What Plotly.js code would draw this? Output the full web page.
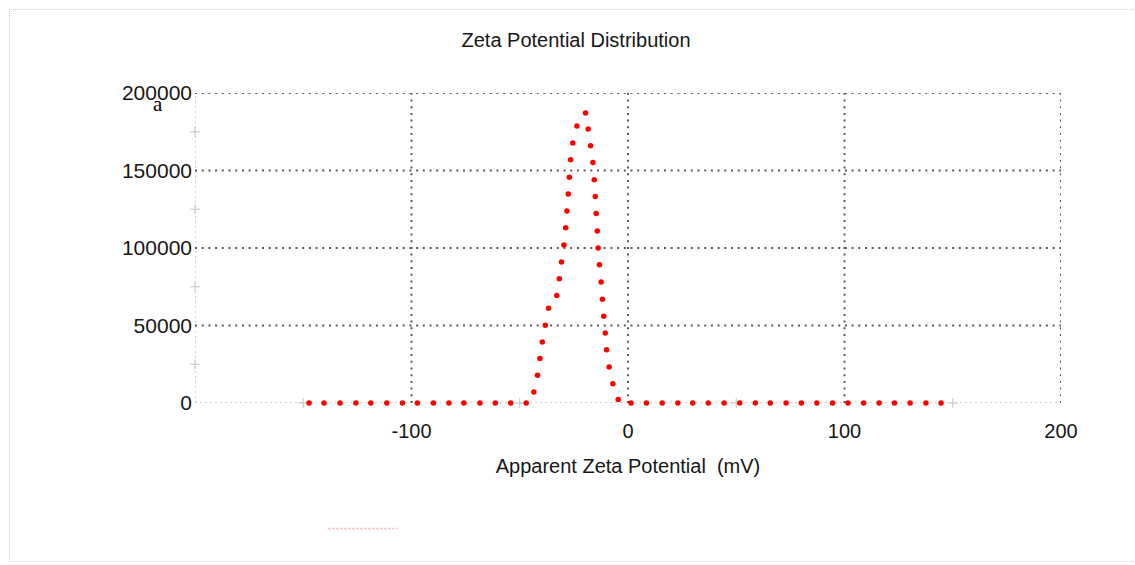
<!DOCTYPE html>
<html>
<head>
<meta charset="utf-8">
<script src="https://cdn.plot.ly/plotly-3.0.1.min.js"></script>
<style>
  html, body { margin: 0; padding: 0; background: #ffffff; }
  #wrap { position: relative; width: 1135px; height: 565px; overflow: hidden; }
  #chart { position: absolute; left: 0; top: 0; width: 1135px; height: 565px; }
  #frame { position: absolute; left: 9px; top: 9px; width: 1130px; height: 551px;
           border-top: 1px dotted #cfcfcf; border-left: 1px dotted #cfcfcf; border-bottom: 1px dotted #cfcfcf;
           pointer-events: none; }
</style>
</head>
<body>
<div id="wrap">
  <div id="chart"></div>
  <div id="frame"></div>
</div>
<script>
// ---- data ----
var zetaMv = [
  -147.3, -140.4, -133.0, -125.7, -118.8, -111.4, -104.2, -97.3, -89.9, -82.7, -75.8, -68.4, -61.3, -54.2, -47.0,
  -43.5, -41.8, -40.7, -39.6, -38.2, -36.7, -32.9, -31.7, -30.7, -29.6, -28.8, -28.2, -27.6, -27.1, -26.5, -25.5, -23.6, -19.6,
  -18.4, -17.3, -16.2, -15.6, -15.1, -14.7, -14.2, -13.8, -13.2, -12.4, -11.8, -11.2, -10.5, -9.9, -8.7, -7.0, -4.5,
  1.4, 8.5, 15.8, 23.0, 29.9, 37.1, 44.4, 51.6, 58.8, 65.7, 73.0, 80.1, 87.2, 94.5, 101.6, 108.8, 116.0, 123.1, 130.3, 137.6, 144.6
];
var counts = [
  0, 0, 0, 0, 0, 0, 0, 0, 0, 0, 0, 0, 0, 0, 0,
  7100, 17900, 28700, 39400, 50200, 61200, 69400, 80200, 91000, 101900, 113100, 123900, 134900, 145700, 156900, 167700, 178700, 187100,
  176700, 165900, 155100, 144000, 133200, 122200, 111000, 100000, 89200, 78000, 67000, 56000, 45100, 34300, 23300, 12500, 2200,
  0, 0, 0, 0, 0, 0, 0, 0, 0, 0, 0, 0, 0, 0, 0, 0, 0, 0, 0, 0, 0
];
var xTickVals = [-100, 0, 100, 200];
var xTickText = ['-100', '0', '100', '200'];
var yTickVals = [0, 50000, 100000, 150000, 200000];
var yTickText = ['0', '50000', '100000', '150000', '200000'];
var xRange = [-200, 200];
var yRange = [0, 200000];
var xMinorMarks = [-150, -50, 50, 150];
var yMinorMarks = [25000, 75000, 125000, 175000];
var chartTitle = 'Zeta Potential Distribution';
var xTitle = 'Apparent Zeta Potential&nbsp;&nbsp;(mV)';
var panelLabel = 'a';

// ---- build ----
var FONT = 'Liberation Sans, Arial, sans-serif';
var TXT = '#161616';
var shapes = [];
// light axis lines (left and bottom)
shapes.push({type: 'line', xref: 'x', yref: 'y', x0: xRange[0], x1: xRange[1], y0: yRange[0], y1: yRange[0],
  line: {color: '#c4c4c4', width: 1.5, dash: '2px,3px'}, layer: 'below'});
shapes.push({type: 'line', xref: 'x', yref: 'y', x0: xRange[0], x1: xRange[0], y0: yRange[0], y1: yRange[1],
  line: {color: '#c4c4c4', width: 1.5, dash: '2px,3px'}, layer: 'below'});
// dark dotted grid
yTickVals.forEach(function (v) {
  if (v === yRange[0]) return;
  shapes.push({type: 'line', xref: 'x', yref: 'y', x0: xRange[0], x1: xRange[1], y0: v, y1: v,
    line: {color: '#5a5a5a', width: 2, dash: '2px,4.7px'}, layer: 'below'});
});
xTickVals.forEach(function (v) {
  shapes.push({type: 'line', xref: 'x', yref: 'y', x0: v, x1: v, y0: yRange[0], y1: yRange[1],
    line: {color: '#5a5a5a', width: 2, dash: '2px,4.7px'}, layer: 'below'});
});
// faint legend sample line near bottom
shapes.push({type: 'line', xref: 'paper', yref: 'paper', x0: 0.154, x1: 0.234, y0: -0.405, y1: -0.405,
  line: {color: '#f7b5b5', width: 1.5, dash: '2px,2px'}});

var traces = [
  {x: xMinorMarks, y: xMinorMarks.map(function () { return yRange[0]; }), mode: 'markers', type: 'scatter',
   marker: {symbol: 'cross-thin-open', size: 7, color: '#c4c4c4', line: {color: '#c4c4c4', width: 1}}, cliponaxis: false, hoverinfo: 'skip'},
  {x: yMinorMarks.map(function () { return xRange[0]; }), y: yMinorMarks, mode: 'markers', type: 'scatter',
   marker: {symbol: 'cross-thin-open', size: 7, color: '#c4c4c4', line: {color: '#c4c4c4', width: 1}}, cliponaxis: false, hoverinfo: 'skip'},
  {x: zetaMv, y: counts, mode: 'markers', type: 'scatter',
   marker: {symbol: 'circle', size: 5.5, color: '#ff0000', line: {width: 0}}, cliponaxis: false}
];

var layout = {
  width: 1135, height: 565,
  paper_bgcolor: '#ffffff', plot_bgcolor: 'rgba(0,0,0,0)',
  showlegend: false,
  margin: {l: 194.5, r: 74, t: 93.3, b: 162.3, pad: 0},
  font: {family: FONT, size: 20, color: TXT},
  title: {text: chartTitle, font: {family: FONT, size: 20, color: TXT},
          x: 0.5075, xanchor: 'center', xref: 'container', y: 1 - 40 / 565, yanchor: 'middle', yref: 'container'},
  xaxis: {range: xRange, tickvals: xTickVals, ticktext: xTickText, showgrid: false, zeroline: false, showline: false,
          ticks: '', ticklabelstandoff: 14, tickfont: {family: FONT, size: 20, color: TXT},
          title: {text: xTitle, font: {family: FONT, size: 20, color: TXT}, standoff: 17}, fixedrange: true},
  yaxis: {range: yRange, tickvals: yTickVals, ticktext: yTickText, showgrid: false, zeroline: false, showline: false,
          ticks: '', ticklabelstandoff: 2, tickfont: {family: FONT, size: 21, color: TXT}, fixedrange: true},
  shapes: shapes,
  annotations: [{text: panelLabel, xref: 'paper', yref: 'paper', x: (157 - 194.5) / 866.5, y: (402.7 - 104) / 309.4,
                 xanchor: 'center', yanchor: 'middle', showarrow: false,
                 font: {family: 'Liberation Serif, Times New Roman, serif', size: 21, color: '#000000'}}]
};

Plotly.newPlot('chart', traces, layout, {displayModeBar: false, staticPlot: true});
</script>
</body>
</html>
